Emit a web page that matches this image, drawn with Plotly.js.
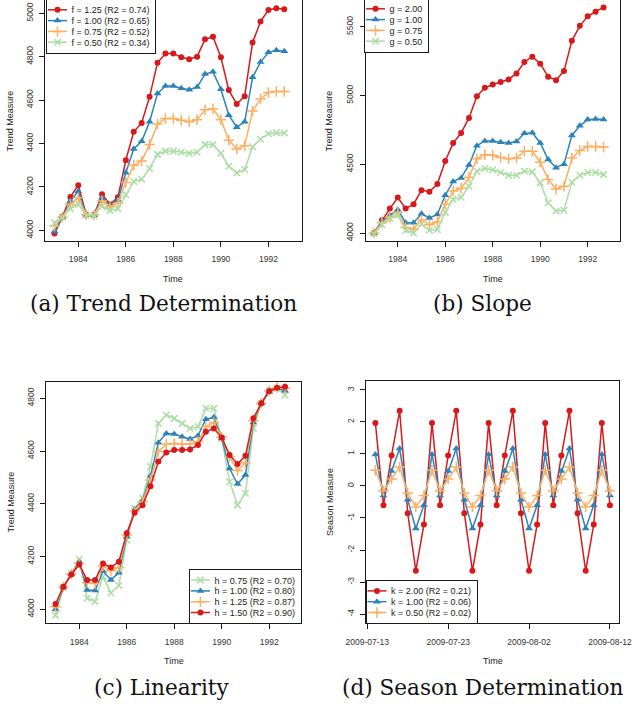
<!DOCTYPE html>
<html><head><meta charset="utf-8">
<script src="https://cdn.plot.ly/plotly-3.0.1.min.js"></script>
<style>html,body{margin:0;padding:0;background:#fff;} #chart{width:633px;height:706px;}</style>
</head><body><div id="chart"></div>
<script>
// ---------------- data ----------------
const timeYears = [1983.000, 1983.333, 1983.667, 1984.000, 1984.333, 1984.667, 1985.000, 1985.333, 1985.667, 1986.000,
  1986.333, 1986.667, 1987.000, 1987.333, 1987.667, 1988.000, 1988.333, 1988.667, 1989.000, 1989.333,
  1989.667, 1990.000, 1990.333, 1990.667, 1991.000, 1991.333, 1991.667, 1992.000, 1992.333, 1992.667];

// (a) Trend Determination
const trendF125 = [3985, 4063, 4154, 4208, 4072, 4072, 4166, 4120, 4152, 4323, 4454, 4495, 4615, 4772, 4815, 4815, 4797, 4788, 4800, 4880, 4892, 4797, 4646, 4582, 4618, 4865, 4962, 5015, 5023, 5018];
const trendF100 = [3995, 4060, 4135, 4180, 4072, 4070, 4150, 4115, 4140, 4265, 4375, 4410, 4500, 4630, 4665, 4665, 4655, 4648, 4660, 4720, 4730, 4650, 4530, 4475, 4500, 4705, 4775, 4820, 4830, 4825];
const trendF075 = [4020, 4060, 4120, 4150, 4072, 4072, 4135, 4110, 4125, 4220, 4300, 4320, 4395, 4490, 4515, 4515, 4507, 4500, 4510, 4555, 4560, 4510, 4415, 4375, 4390, 4550, 4605, 4635, 4640, 4640];
const trendF050 = [4035, 4060, 4100, 4120, 4070, 4068, 4110, 4092, 4100, 4165, 4225, 4235, 4285, 4350, 4365, 4365, 4360, 4355, 4360, 4395, 4395, 4355, 4295, 4265, 4280, 4385, 4420, 4445, 4450, 4448];

// (b) Slope
const slopeG200 = [4000, 4093, 4178, 4258, 4178, 4210, 4312, 4300, 4356, 4524, 4654, 4727, 4837, 4995, 5056, 5080, 5098, 5117, 5161, 5244, 5283, 5232, 5137, 5112, 5178, 5398, 5507, 5576, 5610, 5641];
const slopeG100 = [4000, 4085, 4130, 4170, 4075, 4075, 4140, 4110, 4135, 4275, 4375, 4400, 4495, 4635, 4670, 4670, 4660, 4655, 4665, 4725, 4730, 4655, 4535, 4475, 4500, 4710, 4780, 4825, 4830, 4825];
const slopeG075 = [4000, 4075, 4115, 4150, 4040, 4030, 4095, 4060, 4080, 4210, 4305, 4325, 4405, 4540, 4570, 4565, 4550, 4540, 4545, 4595, 4595, 4515, 4390, 4320, 4340, 4545, 4600, 4630, 4630, 4625];
const slopeG050 = [3995, 4060, 4105, 4130, 4020, 4000, 4065, 4020, 4025, 4150, 4245, 4260, 4340, 4450, 4470, 4460, 4440, 4420, 4420, 4450, 4445, 4365, 4220, 4160, 4165, 4370, 4420, 4440, 4440, 4425];

// (c) Linearity
const linH075 = [3978, 4083, 4136, 4190, 4042, 4030, 4124, 4062, 4090, 4263, 4383, 4421, 4541, 4705, 4737, 4724, 4705, 4686, 4692, 4762, 4762, 4648, 4484, 4395, 4440, 4686, 4781, 4828, 4838, 4812];
const linH100 = [4000, 4083, 4134, 4180, 4073, 4071, 4145, 4111, 4139, 4275, 4379, 4414, 4505, 4632, 4667, 4665, 4654, 4646, 4658, 4721, 4728, 4648, 4534, 4475, 4509, 4708, 4781, 4825, 4838, 4829];
const linH125 = [4010, 4085, 4134, 4175, 4101, 4098, 4164, 4146, 4159, 4282, 4374, 4408, 4490, 4598, 4627, 4629, 4627, 4627, 4636, 4692, 4708, 4652, 4579, 4526, 4556, 4715, 4781, 4828, 4841, 4838];
const linH150 = [4020, 4086, 4132, 4170, 4111, 4111, 4174, 4159, 4180, 4288, 4366, 4395, 4467, 4560, 4595, 4604, 4604, 4606, 4623, 4673, 4686, 4651, 4585, 4551, 4582, 4724, 4781, 4828, 4840, 4844];

// (d) Season Determination
const seasonDates = ['2009-07-14','2009-07-15','2009-07-16','2009-07-17','2009-07-18','2009-07-19','2009-07-20',
  '2009-07-21','2009-07-22','2009-07-23','2009-07-24','2009-07-25','2009-07-26','2009-07-27',
  '2009-07-28','2009-07-29','2009-07-30','2009-07-31','2009-08-01','2009-08-02','2009-08-03',
  '2009-08-04','2009-08-05','2009-08-06','2009-08-07','2009-08-08','2009-08-09','2009-08-10',
  '2009-08-11','2009-08-12'];
const seasonK200 = [1.97, -0.60, 0.95, 2.35, -0.85, -2.65, -1.20, 1.97, -0.60, 0.95, 2.35, -0.85, -2.65, -1.20,
  1.97, -0.60, 0.95, 2.35, -0.85, -2.65, -1.20, 1.97, -0.60, 0.95, 2.35, -0.85, -2.65, -1.20, 1.97, -0.60];
const seasonK100 = [0.98, -0.30, 0.47, 1.17, -0.43, -1.33, -0.60, 0.98, -0.30, 0.47, 1.17, -0.43, -1.33, -0.60,
  0.98, -0.30, 0.47, 1.17, -0.43, -1.33, -0.60, 0.98, -0.30, 0.47, 1.17, -0.43, -1.33, -0.60, 0.98, -0.30];
const seasonK050 = [0.49, -0.15, 0.22, 0.59, -0.22, -0.66, -0.30, 0.49, -0.15, 0.22, 0.59, -0.22, -0.66, -0.30,
  0.49, -0.15, 0.22, 0.59, -0.22, -0.66, -0.30, 0.49, -0.15, 0.22, 0.59, -0.22, -0.66, -0.30, 0.49, -0.15];

const yearTicks = [1984, 1986, 1988, 1990, 1992];
const ticksA = [4000, 4200, 4400, 4600, 4800, 5000];
const ticksB = [4000, 4500, 5000, 5500];
const ticksC = [4000, 4200, 4400, 4600, 4800];
const ticksD = [-4, -3, -2, -1, 0, 1, 2, 3];
const dateTicks = ['2009-07-13', '2009-07-23', '2009-08-02', '2009-08-12'];

const namesA = ['f = 1.25 (R2 = 0.74)', 'f = 1.00 (R2 = 0.65)', 'f = 0.75 (R2 = 0.52)', 'f = 0.50 (R2 = 0.34)'];
const namesB = ['g = 2.00', 'g = 1.00', 'g = 0.75', 'g = 0.50'];
const namesC = ['h = 0.75 (R2 = 0.70)', 'h = 1.00 (R2 = 0.80)', 'h = 1.25 (R2 = 0.87)', 'h = 1.50 (R2 = 0.90)'];
const namesD = ['k = 2.00 (R2 = 0.21)', 'k = 1.00 (R2 = 0.06)', 'k = 0.50 (R2 = 0.02)'];
const captions = ['(a) Trend Determination', '(b) Slope', '(c) Linearity', '(d) Season Determination'];

// ---------------- styling ----------------
const W = 633, H = 706;
const SANS = 'Liberation Sans, Arial, sans-serif';
const SERIF = 'DejaVu Serif, serif';
const LEGSIZE = 9;
const LW = 1.5;
const STY = {
  red:    {color: '#D7191C', symbol: 'circle', size: 6},
  blue:   {color: '#2B83BA', symbol: 'triangle-up', size: 7},
  orange: {color: '#FDAE61', symbol: 'cross-thin', size: 7.5},
  green:  {color: '#ABDDA4', symbol: 'x-thin', size: 6.5}
};
function tr(x, y, name, sty, ax, legend) {
  const thin = sty.symbol.indexOf('-thin') >= 0;
  return {
    type: 'scatter', mode: 'lines+markers', x: x, y: y, name: name,
    xaxis: 'x' + ax, yaxis: 'y' + ax, legend: legend,
    line: {color: sty.color, width: LW},
    marker: {symbol: sty.symbol, size: sty.size, color: sty.color,
             line: {color: sty.color, width: thin ? LW : 0}}
  };
}
const data = [
  tr(timeYears, trendF125, namesA[0], STY.red, '', 'legend'),
  tr(timeYears, trendF100, namesA[1], STY.blue, '', 'legend'),
  tr(timeYears, trendF075, namesA[2], STY.orange, '', 'legend'),
  tr(timeYears, trendF050, namesA[3], STY.green, '', 'legend'),
  tr(timeYears, slopeG200, namesB[0], STY.red, '2', 'legend2'),
  tr(timeYears, slopeG100, namesB[1], STY.blue, '2', 'legend2'),
  tr(timeYears, slopeG075, namesB[2], STY.orange, '2', 'legend2'),
  tr(timeYears, slopeG050, namesB[3], STY.green, '2', 'legend2'),
  tr(timeYears, linH075, namesC[0], STY.green, '3', 'legend3'),
  tr(timeYears, linH100, namesC[1], STY.blue, '3', 'legend3'),
  tr(timeYears, linH125, namesC[2], STY.orange, '3', 'legend3'),
  tr(timeYears, linH150, namesC[3], STY.red, '3', 'legend3'),
  tr(seasonDates, seasonK200, namesD[0], STY.red, '4', 'legend4'),
  tr(seasonDates, seasonK100, namesD[1], STY.blue, '4', 'legend4'),
  tr(seasonDates, seasonK050, namesD[2], STY.orange, '4', 'legend4')
];

const tickFont = {family: SANS, size: 8.5, color: '#333'};
function ax(extra) {
  return Object.assign({
    showline: true, linecolor: '#1a1a1a', linewidth: 1, ticks: 'outside', ticklen: 5,
    tickwidth: 1, tickcolor: '#1a1a1a', showgrid: false, zeroline: false,
    tickfont: tickFont, fixedrange: true, automargin: false
  }, extra);
}
function px2x(p) { return p / W; }
function px2y(p) { return 1 - p / H; }
function xAx(l, r, range, anchor, mirror) {
  return ax({domain: [px2x(l), px2x(r)], range: range, anchor: anchor, mirror: mirror,
             tickmode: 'array', tickvals: yearTicks, ticktext: yearTicks.map(String), ticklabelstandoff: 5});
}
function yAx(top, bottom, range, anchor, ticks) {
  return ax({domain: [px2y(bottom), Math.min(1, px2y(top))], range: range, anchor: anchor, mirror: true,
             tickmode: 'array', tickvals: ticks, ticktext: ticks.map(String), tickangle: -90, ticklabelstandoff: 3});
}

const legendBase = {bgcolor: '#fff', bordercolor: '#1a1a1a', borderwidth: 1,
  font: {family: SANS, size: LEGSIZE, color: '#222'}, xanchor: 'left', yanchor: 'top', traceorder: 'normal'};

const axisTitleFont = {family: SANS, size: 9, color: '#222'};
function ann(text, xp, yp, font, angle) {
  return {text: text, xref: 'paper', yref: 'paper', x: px2x(xp), y: px2y(yp), showarrow: false,
          xanchor: 'center', yanchor: 'middle', font: font, textangle: angle || 0};
}
const capFont = {family: SERIF, size: 21.6, color: '#111'};

const layout = {
  width: W, height: H, margin: {l: 0, r: 0, t: 0, b: 0, autoexpand: false},
  paper_bgcolor: '#fff', plot_bgcolor: '#fff', showlegend: true,
  xaxis:  xAx(45, 301.7, [1982.6, 1993.4], 'y', false),
  yaxis:  yAx(0, 241, [3951, 5061], 'x', ticksA),
  xaxis2: xAx(365.7, 620, [1982.65, 1993.36], 'y2', false),
  yaxis2: yAx(0, 241, [3942, 5695], 'x2', ticksB),
  xaxis3: xAx(46, 301, [1982.6, 1993.34], 'y3', true),
  yaxis3: yAx(381.7, 623.3, [3947, 4863], 'x3', ticksC),
  xaxis4: ax({type: 'date', domain: [px2x(366), px2x(619.3)], range: ['2009-07-12 20:10', '2009-08-13 03:50'],
              anchor: 'y4', mirror: true, tickmode: 'array', tickvals: dateTicks, ticktext: dateTicks, ticklabelstandoff: 5}),
  yaxis4: yAx(381, 623.3, [-4.29, 3.28], 'x4', ticksD),
  legend:  Object.assign({}, legendBase, {x: px2x(46), y: 1}),
  legend2: Object.assign({}, legendBase, {x: px2x(364), y: 1}),
  legend3: Object.assign({}, legendBase, {x: px2x(186), y: px2y(570)}),
  legend4: Object.assign({}, legendBase, {x: px2x(366), y: px2y(581)}),
  annotations: [
    ann('Trend Measure', 9.5, 121, axisTitleFont, -90),
    ann('Trend Measure', 328.5, 121, axisTitleFont, -90),
    ann('Trend Measure', 10, 502.5, axisTitleFont, -90),
    ann('Season Measure', 330, 502, axisTitleFont, -90),
    ann('Time', 173.3, 279, axisTitleFont),
    ann('Time', 492.8, 279, axisTitleFont),
    ann('Time', 173.5, 661, axisTitleFont),
    ann('Time', 492.7, 661, axisTitleFont),
    ann(captions[0], 163.5, 303, capFont),
    ann(captions[1], 482.5, 303, capFont),
    ann(captions[2], 162, 687, capFont),
    ann(captions[3], 482, 687, capFont)
  ]
};

// legend compaction (R-style tight legends)
const LEG = [
  {id: 'legend',  left: 46,    top: -1},
  {id: 'legend2', left: 364,   top: -2},
  {id: 'legend3', right: 300.5, bottom: 623.3},
  {id: 'legend4', left: 365.5, bottom: 623.3}
];
const SP = 10.8;
const gd = document.getElementById('chart');
const measureCtx = document.createElement('canvas').getContext('2d');
measureCtx.font = LEGSIZE + 'px "Liberation Sans", Arial, sans-serif';
function textWidth(t) {
  let w = 0;
  try { w = t.getBBox().width; } catch (e) { w = 0; }
  const m = measureCtx.measureText(t.textContent || '').width;
  return Math.max(w || 0, m || 0);
}
function tweakLegends() {
  LEG.forEach(function (cfg) {
    const g = gd.querySelector('g.' + cfg.id);
    if (!g) return;
    const items = g.querySelectorAll('g.traces');
    let maxW = 0;
    items.forEach(function (it, i) {
      it.setAttribute('transform', 'translate(0,' + (SP * (i + 1)).toFixed(2) + ')');
      it.querySelectorAll('path.js-line').forEach(function (p) { p.setAttribute('d', 'M2,0h19'); });
      it.querySelectorAll('path.scatterpts').forEach(function (p) { p.setAttribute('transform', 'translate(11.5,0)'); });
      it.querySelectorAll('text').forEach(function (t) {
        t.setAttribute('x', 25.5);
        t.querySelectorAll('tspan').forEach(function (s) { if (s.hasAttribute('x')) s.setAttribute('x', 25.5); });
        maxW = Math.max(maxW, textWidth(t));
      });
    });
    const w = 25.5 + maxW + 5.5, h = SP * (items.length + 1);
    const left = cfg.left !== undefined ? cfg.left : cfg.right - w;
    const top = cfg.top !== undefined ? cfg.top : cfg.bottom - h;
    g.setAttribute('transform', 'translate(' + left.toFixed(2) + ',' + top.toFixed(2) + ')');
    const bg = g.querySelector('rect.bg');
    if (bg) {
      bg.setAttribute('x', 0.5); bg.setAttribute('y', 0.5);
      bg.setAttribute('width', w.toFixed(2)); bg.setAttribute('height', h.toFixed(2));
    }
    const sb = g.querySelector('g.scrollbox');
    if (sb) { sb.removeAttribute('clip-path'); sb.setAttribute('transform', 'translate(0,0)'); }
  });
}
Plotly.newPlot(gd, data, layout, {staticPlot: true, displayModeBar: false}).then(function () {
  tweakLegends();
  if (gd.on) gd.on('plotly_afterplot', tweakLegends);
});
</script></body></html>
